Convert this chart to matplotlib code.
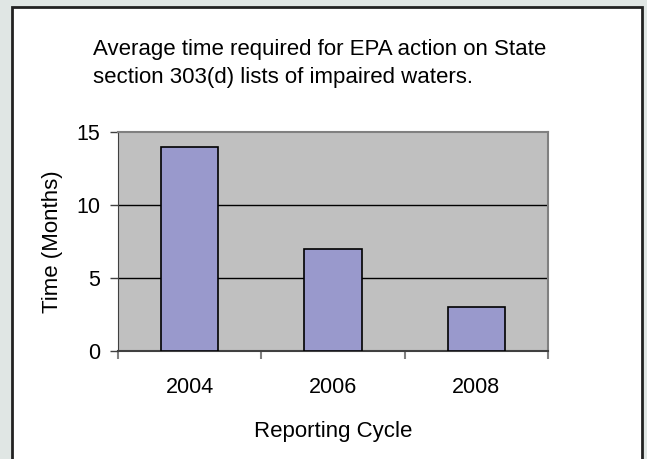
import matplotlib
matplotlib.use("Agg")
import matplotlib.pyplot as plt
from matplotlib.patches import Rectangle

cycles = ["2004", "2006", "2008"]
months = [14, 7, 3]
yticks = [0, 5, 10, 15]
title_lines = ["Average time required for EPA action on State",
               "section 303(d) lists of impaired waters."]

plt.rcParams["font.family"] = ["Liberation Sans", "DejaVu Sans"]

W, H = 647, 459
fig = plt.figure(figsize=(W / 100, H / 100), dpi=100)
fig.patch.set_facecolor("#e0e6e4")

# white chart frame (bottom edge runs off the image)
fig.patches.append(Rectangle((12 / W, -0.05), (642 - 12) / W, 1.05 - 7 / H,
                             transform=fig.transFigure, facecolor="white",
                             edgecolor="#222222", linewidth=2, zorder=-5))

ax = fig.add_axes([118 / W, 1 - 351 / H, 430 / W, 219 / H])
ax.set_zorder(2)
ax.set_facecolor("#c0c0c0")

x = list(range(len(cycles)))
ax.bar(x, months, width=0.4, color="#9999cc", edgecolor="black", linewidth=1.2, zorder=3)

ax.set_xlim(-0.5, len(cycles) - 0.5)
ax.set_ylim(0, 15)
ax.set_yticks(yticks)
ax.set_yticklabels([str(v) for v in yticks], fontsize=15.5)
for v in yticks[1:-1]:
    ax.axhline(v, color="black", linewidth=1, zorder=1)

# category boundary ticks on x
ax.set_xticks([i - 0.5 for i in range(len(cycles) + 1)])
ax.set_xticklabels([])
ax.set_xticks(x, minor=True)
ax.set_xticklabels(cycles, minor=True, fontsize=15.5)
ax.tick_params(axis="x", which="minor", length=0, pad=19)
ax.tick_params(axis="x", which="major", length=6, color="#808080", width=1.5)
ax.tick_params(axis="y", length=6, color="#404040", width=1, pad=7)

for s in ["top", "right"]:
    ax.spines[s].set_color("#808080")
    ax.spines[s].set_linewidth(1.5)
ax.spines["left"].set_color("#404040")
ax.spines["bottom"].set_color("#404040")
ax.spines["bottom"].set_linewidth(1.5)

ax.set_ylabel("Time (Months)", fontsize=16, labelpad=9)
ax.set_xlabel("Reporting Cycle", fontsize=16, labelpad=16)

for i, line in enumerate(title_lines):
    fig.text(93 / W, 1 - (55 + 28 * i) / H, line, fontsize=16, ha="left", va="baseline")

fig.savefig("out.png", dpi=100, facecolor=fig.get_facecolor())
